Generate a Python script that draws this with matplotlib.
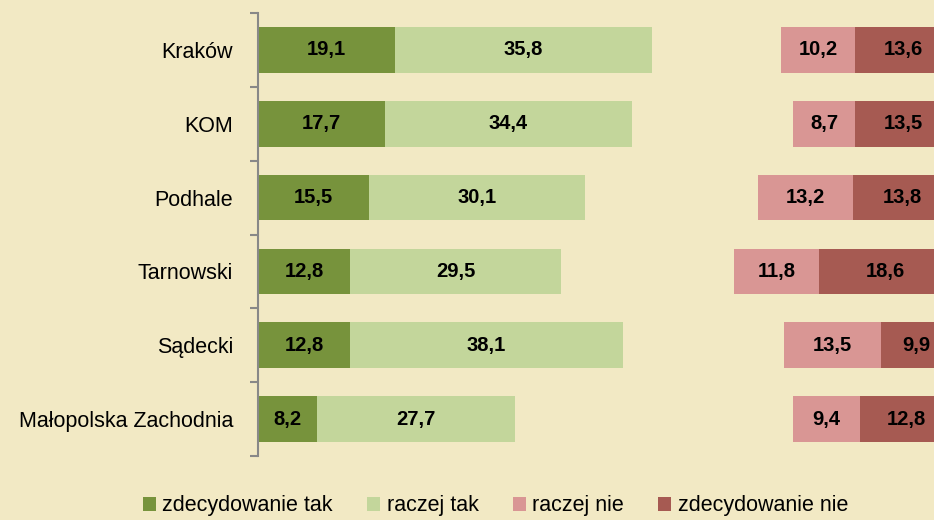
import matplotlib
matplotlib.use("Agg")
import matplotlib.pyplot as plt
from matplotlib.patches import Patch
import numpy as np

plt.rcParams['font.family'] = ['Liberation Sans', 'DejaVu Sans']

# dane
regions = ["Kraków", "KOM", "Podhale", "Tarnowski", "Sądecki", "Małopolska Zachodnia"]
zdec_tak = [19.1, 17.7, 15.5, 12.8, 12.8, 8.2]
raczej_tak = [35.8, 34.4, 30.1, 29.5, 38.1, 27.7]
raczej_nie = [10.2, 8.7, 13.2, 11.8, 13.5, 9.4]
zdec_nie = [13.6, 13.5, 13.8, 18.6, 9.9, 12.8]
series_names = ["zdecydowanie tak", "raczej tak", "raczej nie", "zdecydowanie nie"]

colors = ["#77933C", "#C3D69B", "#D99694", "#A65A52"]
bg = "#F2E9C4"
right_end = 96.8  # prawy koniec słupków "nie" (poza krawędzią rysunku)

fig = plt.figure(figsize=(9.34, 5.2), dpi=100, facecolor=bg)
ax = fig.add_axes([258 / 934, 64 / 520, 717 / 934, 443 / 520])
ax.set_facecolor(bg)

y = np.arange(len(regions))
h = 0.62

zt = np.array(zdec_tak)
rt = np.array(raczej_tak)
rn = np.array(raczej_nie)
zn = np.array(zdec_nie)

left_zn = right_end - zn
left_rn = left_zn - rn

segments = [
    (np.zeros(len(y)), zt, colors[0]),
    (zt, rt, colors[1]),
    (left_rn, rn, colors[2]),
    (left_zn, zn, colors[3]),
]

for left, width, c in segments:
    ax.barh(y, width, left=left, height=h, color=c, edgecolor='none')
    for yi, l, w in zip(y, left, width):
        ax.text(l + w / 2, yi, f"{w:.1f}".replace('.', ','), ha='center', va='center',
                fontsize=14.5, fontweight='bold', color='black')

ax.set_xlim(0, 100)
ax.set_ylim(len(regions) - 0.5, -0.5)

for s in ['top', 'right', 'bottom']:
    ax.spines[s].set_visible(False)
ax.spines['left'].set_color('#888888')
ax.spines['left'].set_linewidth(1.5)
ax.set_xticks([])

ax.set_yticks(y)
ax.set_yticklabels(regions, fontsize=15.5)
ax.tick_params(axis='y', which='major', length=0, pad=18)
ax.set_yticks(np.arange(-0.5, len(regions)), minor=True)
ax.tick_params(axis='y', which='minor', length=6, width=1.5, color='#888888', direction='out')

handles = [Patch(facecolor=c, edgecolor='none') for c in colors]
fig.legend(handles, series_names, loc='center', bbox_to_anchor=(0.5305, 0.027),
           ncol=4, frameon=False, fontsize=15.5, handlelength=0.6, handleheight=0.6,
           handletextpad=0.3, columnspacing=1.6)

fig.savefig("out.png", dpi=100, facecolor=bg)
